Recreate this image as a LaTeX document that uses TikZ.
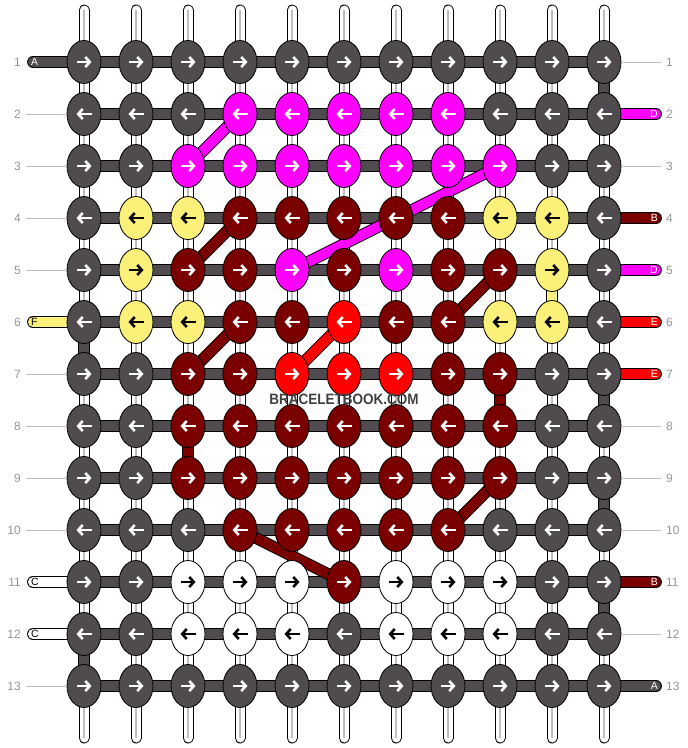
\documentclass[tikz,border=0pt]{standalone}
\usepackage{fontspec}
\setmainfont{Liberation Sans}
\usetikzlibrary{shapes.geometric,arrows.meta}

\pgfdeclarelayer{strings}
\pgfdeclarelayer{bars}
\pgfsetlayers{strings,bars,main}

\definecolor{cg}{RGB}{79,75,79}
\definecolor{cp}{RGB}{255,0,255}
\definecolor{cd}{RGB}{122,0,0}
\definecolor{cr}{RGB}{255,0,0}
\definecolor{cy}{RGB}{250,240,122}
\definecolor{cw}{RGB}{255,255,255}
\definecolor{numgray}{RGB}{150,150,150}
\definecolor{guidegray}{RGB}{190,190,190}
\definecolor{wmgray}{RGB}{64,64,64}

\begin{document}
\begin{tikzpicture}[x=1pt, y=-1pt,
  knot/.style={ellipse, draw=black, line width=0.8pt, minimum width=34pt, minimum height=43pt, inner sep=0pt},
  knot g/.style={fill=cg}, knot p/.style={fill=cp}, knot d/.style={fill=cd},
  knot r/.style={fill=cr}, knot y/.style={fill=cy}, knot w/.style={fill=cw},
  ink g/.style={white}, ink p/.style={white}, ink d/.style={white},
  ink r/.style={white}, ink y/.style={black}, ink w/.style={black},
  arr/.style={line width=2.6pt, -{Straight Barb[length=4.5pt, width=10pt]}},
  strand/.style={draw=black, line width=0.9pt, double distance=10pt},
  warp/.style={draw=black, line width=1pt, double=white, double distance=9pt, line cap=round},
  rownum/.style={text=numgray, font=\fontsize{12}{14}\selectfont, inner sep=0pt},
  tabtxt/.style={font=\fontsize{10.5}{12}\selectfont, inner sep=0pt},
  guide/.style={draw=guidegray, line width=1pt}]
\useasboundingbox (0,0) rectangle (688,748);

% knots
\foreach \row [count=\r] in {
  {g,g,g,g,g,g,g,g,g,g,g},
  {g,g,g,p,p,p,p,p,g,g,g},
  {g,g,p,p,p,p,p,p,p,g,g},
  {g,y,y,d,d,d,d,d,y,y,g},
  {g,y,d,d,p,d,p,d,d,y,g},
  {g,y,y,d,d,r,d,d,y,y,g},
  {g,g,d,d,r,r,r,d,d,g,g},
  {g,g,d,d,d,d,d,d,d,g,g},
  {g,g,d,d,d,d,d,d,d,g,g},
  {g,g,g,d,d,d,d,d,g,g,g},
  {g,g,w,w,w,d,w,w,w,g,g},
  {g,g,w,w,w,g,w,w,w,g,g},
  {g,g,g,g,g,g,g,g,g,g,g}}{
  \pgfmathsetmacro\s{ifthenelse(isodd(\r),1,-1)}
  \foreach \k [count=\c] in \row {
    \node[knot, knot \k] (k-\r-\c) at (32+52*\c, 10+52*\r) {};
    \draw[arr, ink \k] (k-\r-\c.center) ++(-7.5*\s,0) -- ++(15*\s,0);
  }
}

% warp strings
\begin{pgfonlayer}{strings}
\foreach \c in {1,...,11} {
  \coordinate (top-\c) at (32+52*\c, 10);
  \coordinate (bot-\c) at (32+52*\c, 738);
  \draw[warp] (top-\c) -- (bot-\c);
  \draw[guidegray, line width=1.2pt] (top-\c) -- (bot-\c);
}
\end{pgfonlayer}

\begin{pgfonlayer}{bars}
% strands going down
\foreach \c/\r/\k in {11/1/g, 11/7/g, 11/9/g, 11/11/g, 1/6/g, 1/12/g,
                      10/5/y, 9/7/d, 3/8/d} {
  \pgfmathtruncatemacro\n{\r+1}
  \draw[strand, double=c\k] (k-\r-\c.center) -- (k-\n-\c.center);
}
% rows
\foreach \r in {1,...,13}
  \draw[strand, double=cg] (k-\r-1.center) -- (k-\r-11.center);
% diagonals
\foreach \a/\b/\k in {3-3/2-4/p, 5-5/3-9/p, 5-3/4-4/d, 7-3/6-4/d,
                      7-5/6-6/r, 6-8/5-9/d, 10-8/9-9/d, 10-4/11-6/d}
  \draw[strand, double=c\k] (k-\a.center) -- (k-\b.center);
% tabs
\foreach \r/\t/\k in {1/A/g, 6/F/y, 11/C/w, 12/C/w} {
  \coordinate (tl-\r) at (33, 10+52*\r);
  \draw[strand, double=c\k, line cap=round] (tl-\r) -- (k-\r-1.center);
  \node[tabtxt, ink \k, anchor=west] (lt-\r) at (31, 10+52*\r) {\t};
}
\foreach \r/\t/\k in {2/D/p, 4/B/d, 5/D/p, 6/E/r, 7/E/r, 11/B/d, 13/A/g} {
  \coordinate (tr-\r) at (656, 10+52*\r);
  \draw[strand, double=c\k, line cap=round] (k-\r-11.center) -- (tr-\r);
  \node[tabtxt, ink \k, anchor=east] (rt-\r) at (658, 10+52*\r) {\t};
}
\end{pgfonlayer}

% row numbers
\foreach \r in {1,...,13} {
  \node[rownum, anchor=east] (nl-\r) at (21, 10+52*\r) {\r};
  \node[rownum, anchor=west] (nr-\r) at (666, 10+52*\r) {\r};
}
\foreach \r in {2,3,4,5,7,8,9,10,13} {
  \coordinate (gl-\r) at (26, 10+52*\r);
  \draw[guide] (gl-\r) -- (k-\r-1.west);
}
\foreach \r in {1,3,8,9,10,12} {
  \coordinate (gr-\r) at (661, 10+52*\r);
  \draw[guide] (k-\r-11.east) -- (gr-\r);
}

\node[text=wmgray, font=\bfseries\fontsize{15}{15}\selectfont, inner sep=0pt] (wm) at (344,399) {\scalebox{0.9}[1]{BRACELETBOOK.COM}};
\end{tikzpicture}
\end{document}
